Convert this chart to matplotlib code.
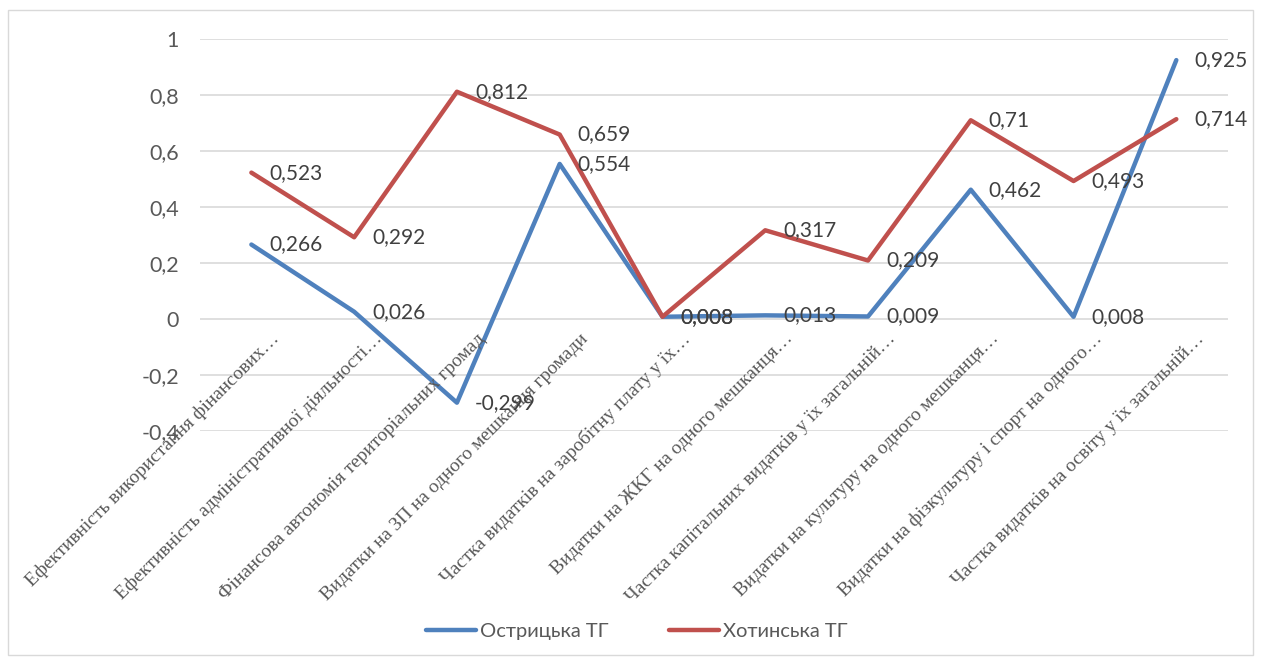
import matplotlib.pyplot as plt
from matplotlib.patches import Rectangle

categories = [
    "Ефективність використання фінансових…",
    "Ефективність адміністративної діяльності…",
    "Фінансова автономія територіальних громад",
    "Видатки на ЗП на одного мешканця громади",
    "Частка видатків на заробітну плату у їх…",
    "Видатки на ЖКГ на одного мешканця…",
    "Частка капітальних видатків у їх загальній…",
    "Видатки на культуру на одного мешканця…",
    "Видатки на фізкультуру і спорт на одного…",
    "Частка видатків на освіту у їх загальній…",
]
ostrytska = [0.266, 0.026, -0.299, 0.554, 0.008, 0.013, 0.009, 0.462, 0.008, 0.925]
khotynska = [0.523, 0.292, 0.812, 0.659, 0.008, 0.317, 0.209, 0.71, 0.493, 0.714]
yticks = [-0.4, -0.2, 0, 0.2, 0.4, 0.6, 0.8, 1]

BLUE = "#4F81BD"
RED = "#C0504D"
GREY = "#595959"


def fmt(v):
    s = f"{v:.3f}".rstrip("0").rstrip(".")
    return s.replace(".", ",")


fig = plt.figure(figsize=(12.61, 6.63), dpi=100)
fig.patches.append(Rectangle((0.006, 0.012), 0.988, 0.973, transform=fig.transFigure,
                             fill=False, edgecolor="#D9D9D9", lw=1))
ax = fig.add_axes([0.1586, 0.35, 0.815, 0.591])

x = list(range(len(categories)))
ax.plot(x, ostrytska, color=BLUE, lw=3.2, solid_capstyle="round", label="Острицька ТГ", zorder=3)
ax.plot(x, khotynska, color=RED, lw=3.2, solid_capstyle="round", label="Хотинська ТГ", zorder=3)

for series in (ostrytska, khotynska):
    for xi, v in zip(x, series):
        ax.annotate(fmt(v), (xi, v), xytext=(13, 0), textcoords="offset points",
                    ha="left", va="center", fontsize=15, color="#404040", family="Lato", zorder=4)

ax.set_xlim(-0.5, len(categories) - 0.5)
ax.set_ylim(-0.4, 1)
ax.set_yticks(yticks)
ax.set_yticklabels([fmt(t) if t != 0 else "0" for t in yticks], family="Lato", fontsize=15.5, color=GREY)
ax.tick_params(axis="y", length=0, pad=15)
ax.set_xticks([])
ax.grid(axis="y", color="#D9D9D9", lw=1.2)
ax.set_axisbelow(True)
for s in ax.spines.values():
    s.set_visible(False)

for xi, lab in zip(x, categories):
    ax.annotate(lab, (xi, 0), xytext=(14, -8), textcoords="offset points",
                rotation=45, rotation_mode="anchor", ha="right", va="top",
                family="Liberation Serif", fontsize=14, color=GREY)

fig.legend(loc="center", bbox_to_anchor=(0.505, 0.047), ncol=2, frameon=False,
           prop={"family": "Lato", "size": 14.5}, labelcolor=GREY,
           handlelength=2.5, handletextpad=0.2, columnspacing=3)

fig.savefig("out.png", dpi=100)
